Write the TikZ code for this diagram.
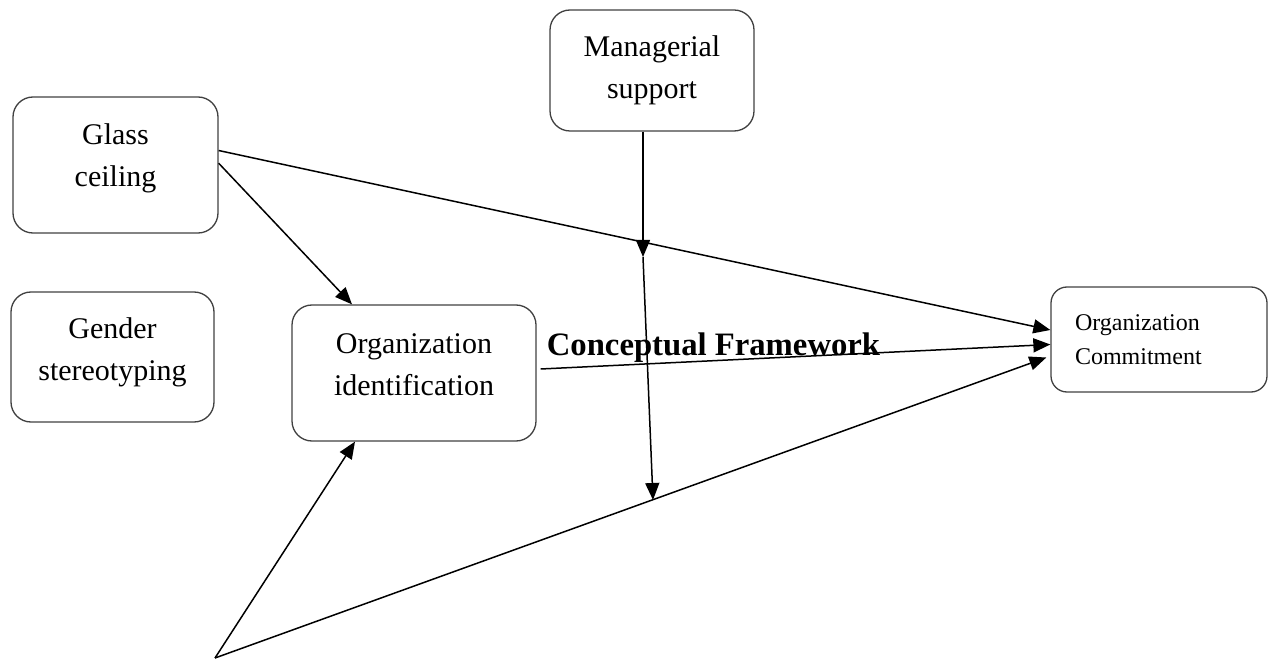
\documentclass[tikz,border=0pt]{standalone}
\usepackage{fontspec}
\setmainfont{Liberation Serif}
\usetikzlibrary{arrows.meta}
\newcommand{\dpstrut}[1]{\rule[-#1]{0pt}{#1}}
\begin{document}
\begin{tikzpicture}[x=1pt,y=-1pt,
  box/.style={draw=black!75, line width=1.3pt, rounded corners=20pt, align=center,
    font=\fontsize{30}{42}\selectfont, inner sep=0pt},
  conn/.style={line width=1.5pt, -{Triangle[length=17pt,width=14pt]}},
  titletext/.style={font=\bfseries\fontsize{32.7}{38}\selectfont, inner sep=0pt, anchor=base}]
\useasboundingbox (0,0) rectangle (1269,660);
\node[box, minimum width=205pt, minimum height=136pt] (glass) at (115.5,165) {Glass\\ceiling\dpstrut{20pt}};
\node[box, minimum width=203pt, minimum height=130pt] (gender) at (112.5,357) {Gender\\stereotyping\dpstrut{16pt}};
\node[box, minimum width=204pt, minimum height=121pt] (mgr) at (652,70.5) {Managerial\\support};
\node[box, minimum width=244pt, minimum height=136pt] (ident) at (414,373) {Organization\\identification\dpstrut{16pt}};
\node[box, rounded corners=16pt, minimum width=216pt, minimum height=105pt, align=left,
  text width=168pt, inner xsep=24pt, font=\fontsize{24}{34}\selectfont] (commit) at (1159,339.5) {Organization\\Commitment};
\node[titletext] (title) at (713.5,355) {Conceptual Framework};
\coordinate (src) at (215,658);
\coordinate (m1) at (643,257);
\coordinate (m2) at (653,500);
\draw[conn] (glass.8) -- ([yshift=9.5pt]commit.west);
\draw[conn] (glass.1) -- ([xshift=-62pt]ident.north);
\draw[conn] ([xshift=-9pt]mgr.south) -- (m1);
\draw[conn] (m1) -- (m2);
\draw[conn] ([xshift=4pt,yshift=4pt]ident.east) -- ([yshift=-5pt]commit.west);
\draw[conn] (src) -- ([yshift=-18pt,xshift=-4pt]commit.west);
\draw[conn] (src) -- ([xshift=-59pt]ident.south);
\end{tikzpicture}
\end{document}
